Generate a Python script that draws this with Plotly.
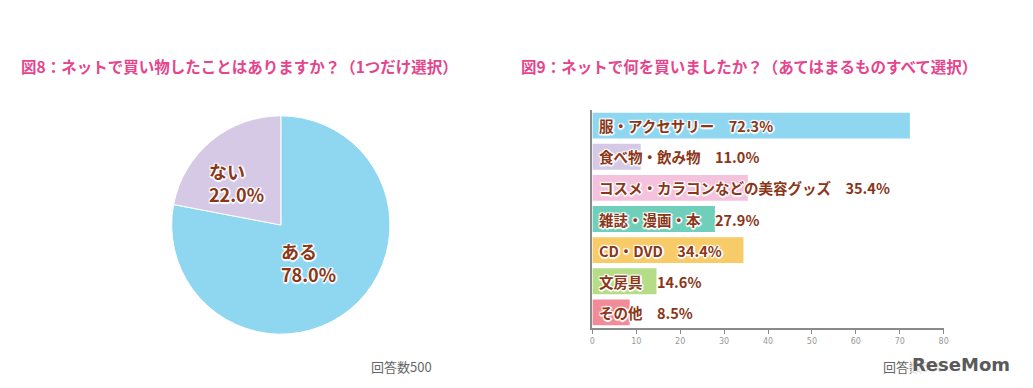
import plotly.graph_objects as go

# ---- data ----
pie_labels = ["ある", "ない"]
pie_values = [78.0, 22.0]
pie_colors = ["#8fd7f1", "#d6c9e6"]

bar_labels = ["服・アクセサリー", "食べ物・飲み物", "コスメ・カラコンなどの美容グッズ",
              "雑誌・漫画・本", "CD・DVD", "文房具", "その他"]
bar_values = [72.3, 11.0, 35.4, 27.9, 34.4, 14.6, 8.5]
bar_colors = ["#8fd7f1", "#d6c9e6", "#f5c2de", "#6fcfba", "#f7cb68", "#b5dc86", "#f18b97"]
tick_vals = [0, 10, 20, 30, 40, 50, 60, 70, 80]

title1 = "図8：ネットで買い物したことはありますか？（1つだけ選択）"
title2 = "図9：ネットで何を買いましたか？（あてはまるものすべて選択）"
note = "回答数500"

FONT = "Noto Sans CJK JP"
BROWN = "#8a3618"
PINK = "#e5458c"
SHADOW = "white 1px 1px 1px, white -1px -1px 1px, white 1px -1px 1px, white -1px 1px 1px, white 0px 2px 1px, white 2px 0px 1px"

W, H = 1033, 388

fig = go.Figure()

fig.add_trace(go.Pie(
    labels=pie_labels, values=pie_values, sort=False, direction="clockwise",
    rotation=0, marker=dict(colors=pie_colors, line=dict(color="white", width=1)),
    textinfo="none", hoverinfo="label+percent", showlegend=False,
    domain=dict(x=[170 / W, 390 / W], y=[1 - 335 / H, 1 - 115 / H]),
))

fig.add_trace(go.Bar(
    x=bar_values, y=bar_labels, orientation="h",
    marker=dict(color=bar_colors, line=dict(width=0)),
    showlegend=False, xaxis="x", yaxis="y",
))

annotations = []
# bar labels
for lab, v in zip(bar_labels, bar_values):
    annotations.append(dict(
        x=0, y=lab, xref="x", yref="y", xanchor="left", yanchor="middle",
        xshift=5, showarrow=False, text=f"{lab}　{v:.1f}%",
        font=dict(family=FONT, size=14.5, color=BROWN, weight="bold", shadow=SHADOW),
    ))

# pie labels
pie_pos = {"ない": (206, 182), "ある": (278, 262)}
for lab, v in zip(pie_labels, pie_values):
    px, py = pie_pos[lab]
    annotations.append(dict(
        x=px / W, y=1 - py / H, xref="paper", yref="paper", xanchor="left",
        yanchor="middle", align="left", showarrow=False,
        text=f"{lab}<br>{v:.1f}%",
        font=dict(family=FONT, size=18, color=BROWN, weight="bold", shadow=SHADOW),
    ))

# titles
annotations.append(dict(x=16 / W, y=1 - 66 / H, xref="paper", yref="paper",
                        xanchor="left", yanchor="middle", showarrow=False, text=title1,
                        font=dict(family=FONT, size=15.5, color=PINK, weight="bold")))
annotations.append(dict(x=520 / W, y=1 - 66 / H, xref="paper", yref="paper",
                        xanchor="left", yanchor="middle", showarrow=False, text=title2,
                        font=dict(family=FONT, size=15.5, color=PINK, weight="bold")))
# notes
annotations.append(dict(x=369 / W, y=1 - 366 / H, xref="paper", yref="paper",
                        xanchor="left", yanchor="middle", showarrow=False, text=note,
                        font=dict(family=FONT, size=13, color="#666666")))
annotations.append(dict(x=885 / W, y=1 - 366 / H, xref="paper", yref="paper",
                        xanchor="left", yanchor="middle", showarrow=False, text=note,
                        font=dict(family=FONT, size=13, color="#666666")))
annotations.append(dict(x=1016 / W, y=1 - 364 / H, xref="paper", yref="paper",
                        xanchor="right", yanchor="middle", showarrow=False, text="ReseMom",
                        bgcolor="rgba(255,255,255,0.8)", borderpad=0,
                        font=dict(family="DejaVu Sans", size=18, color="#5a5a5a", weight="bold")))

fig.update_layout(
    width=W, height=H, margin=dict(l=0, r=0, t=0, b=0),
    paper_bgcolor="white", plot_bgcolor="white",
    bargap=0.17,
    xaxis=dict(domain=[594 / W, 948 / W], range=[0, 80], tickvals=tick_vals,
               showgrid=False, zeroline=False, showline=True, linecolor="#8a8a8a",
               linewidth=2, ticks="outside", ticklen=4, tickcolor="#8a8a8a",
               tickfont=dict(family="DejaVu Sans", size=8, color="#999999"),
               anchor="y", fixedrange=True),
    yaxis=dict(domain=[1 - 328 / H, 1 - 110 / H], autorange="reversed",
               categoryorder="array", categoryarray=bar_labels,
               showticklabels=False, showgrid=False, zeroline=False,
               showline=True, linecolor="#8a8a8a", linewidth=2, ticks="",
               anchor="x", fixedrange=True),
    annotations=annotations,
    font=dict(family=FONT),
)

fig.write_html("out.html", config={"displayModeBar": False},
               post_script="document.body.style.margin='0px';")
